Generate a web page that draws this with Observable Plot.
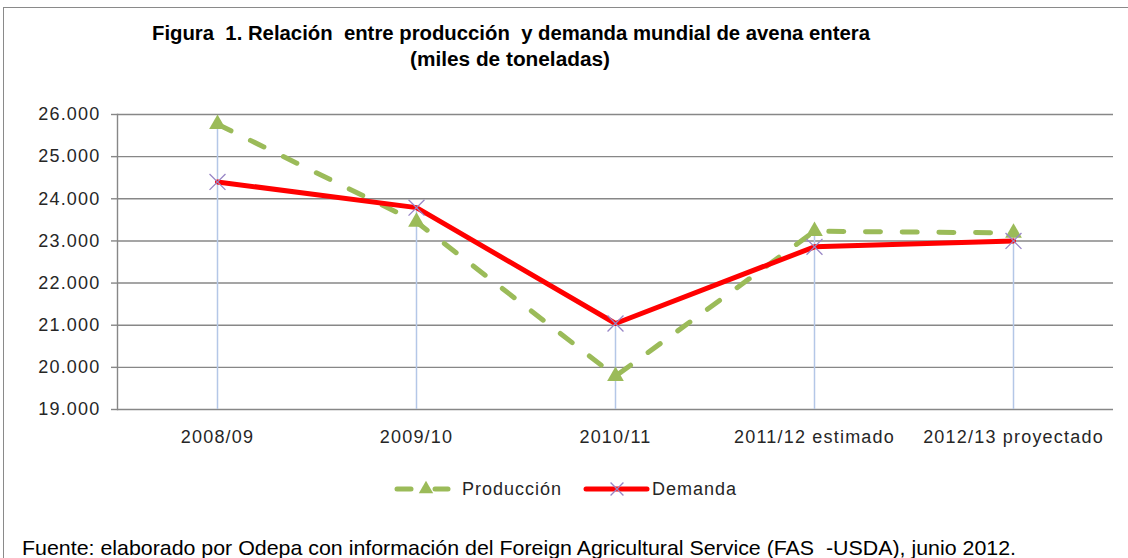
<!DOCTYPE html>
<html>
<head>
<meta charset="utf-8">
<script src="https://cdn.jsdelivr.net/npm/d3@7"></script>
<script src="https://cdn.jsdelivr.net/npm/@observablehq/plot@0.6"></script>
<style>
  html, body { margin: 0; padding: 0; background: #fff; }
  #wrap { position: relative; width: 1128px; height: 558px; overflow: hidden; background: #fff; }
  #border { position: absolute; left: 3px; top: 7px; width: 1140px; height: 600px;
            border-top: 1.5px solid #8a8a8a; border-left: 1.5px solid #8a8a8a; }
  .narrow { font-family: "Liberation Sans", Arial, sans-serif; white-space: nowrap;
            position: absolute; transform-origin: 0 0; }
  .title { font-weight: bold; font-size: 20px; line-height: 26px; color: #000; }
  #chart { position: absolute; left: 0; top: 100px; }
  #chart svg text { letter-spacing: 1.2px; }
  #legend { position: absolute; left: 0; top: 476px; width: 1128px; height: 28px;
            font-family: "Liberation Sans", Arial, sans-serif; font-size: 18px; color: #262626; }
  #legend .item { position: absolute; top: 0; height: 28px; }
  #legend span { position: absolute; top: 3px; white-space: nowrap; letter-spacing: 1px; }
  #footer { font-size: 21px; line-height: 26px; color: #000; }
</style>
</head>
<body>
<div id="wrap">
  <div id="border"></div>
  <div id="t1" class="narrow title">Figura&nbsp; 1. Relación&nbsp; entre producción&nbsp; y demanda mundial de avena entera</div>
  <div id="t2" class="narrow title">(miles de toneladas)</div>
  <div id="chart"></div>
  <div id="legend"></div>
  <div id="footer" class="narrow">Fuente: elaborado por Odepa con información del Foreign Agricultural Service (FAS&nbsp; -USDA), junio 2012.</div>
</div>
<script>
const categories = ["2008/09", "2009/10", "2010/11", "2011/12 estimado", "2012/13 proyectado"];
const produccion = [25770, 23450, 19790, 23230, 23190];
const demanda = [24400, 23790, 21040, 22860, 23000];
const yTicks = [19000, 20000, 21000, 22000, 23000, 24000, 25000, 26000];
const seriesNames = ["Producción", "Demanda"];

const green = "#9bbb59", red = "#ff0000", purple = "#9886c6", blue = "#b4c7e7", grid = "#878787";

// condensed (Arial Narrow-like) text: fit each line to its box in the reference
function fit(id, left, right, top) {
  const el = document.getElementById(id);
  const w = el.getBoundingClientRect().width;
  el.style.left = left + "px";
  el.style.top = top + "px";
  el.style.transform = `scaleX(${(right - left) / w})`;
}
fit("t1", 152, 870, 20);
fit("t2", 410, 610, 46);
fit("footer", 22, 1016, 535);

const data = categories.map((c, i) => ({cat: c, prod: produccion[i], dem: demanda[i]}));
const locale = d3.formatLocale({decimal: ",", thousands: ".", grouping: [3], currency: ["", ""]});
const fmt = locale.format(",");

const chart = Plot.plot({
  width: 1128,
  height: 360,
  marginLeft: 117,
  marginRight: 15,
  marginTop: 14,
  marginBottom: 51,
  style: {fontFamily: "Liberation Sans, Arial, sans-serif", fontSize: "18px", color: "#262626", background: "transparent"},
  x: {domain: categories, type: "point", padding: 0.5, label: null},
  y: {domain: [yTicks[0], yTicks[yTicks.length - 1]], label: null},
  marks: [
    Plot.gridY(yTicks, {stroke: grid, strokeOpacity: 1, strokeWidth: 1.4}),
    Plot.frame({anchor: "left", stroke: grid, strokeWidth: 1.4}),
    Plot.axisY(yTicks, {tickSize: 6, tickPadding: 11, tickFormat: fmt, stroke: grid, strokeWidth: 1.4, fill: "#262626"}),
    Plot.axisX({tickSize: 0, tickPadding: 21, fill: "#262626"}),
    Plot.ruleX(data, {x: "cat", y1: yTicks[0], y2: d => Math.max(d.prod, d.dem), stroke: blue, strokeWidth: 1.5}),
    Plot.line(data, {x: "cat", y: "prod", stroke: green, strokeWidth: 5, strokeDasharray: "15,21.7", strokeLinecap: "round", strokeLinejoin: "round"}),
    Plot.dot(data, {x: "cat", y: "prod", symbol: "triangle", r: 6.2, fill: green, stroke: null}),
    Plot.line(data, {x: "cat", y: "dem", stroke: red, strokeWidth: 5, strokeLinejoin: "round"}),
    Plot.dot(data, {x: "cat", y: "dem", symbol: "times", r: 7.3, stroke: purple, strokeWidth: 1.3})
  ]
});
document.getElementById("chart").appendChild(chart);

// legend
const legend = document.getElementById("legend");
const svgNS = "http://www.w3.org/2000/svg";
function item(left, w, drawFn, label, labelLeft) {
  const div = document.createElement("div");
  div.className = "item";
  div.style.left = left + "px";
  const svg = document.createElementNS(svgNS, "svg");
  svg.setAttribute("width", w);
  svg.setAttribute("height", 28);
  svg.style.position = "absolute";
  svg.style.left = "0px";
  svg.style.top = "0px";
  drawFn(d3.select(svg));
  div.appendChild(svg);
  const span = document.createElement("span");
  span.textContent = label;
  span.style.left = labelLeft + "px";
  div.appendChild(span);
  legend.appendChild(div);
}
item(393, 60, s => {
  s.append("line").attr("x1", 4).attr("x2", 18).attr("y1", 13).attr("y2", 13)
    .attr("stroke", green).attr("stroke-width", 5).attr("stroke-linecap", "round");
  s.append("line").attr("x1", 42).attr("x2", 55).attr("y1", 13).attr("y2", 13)
    .attr("stroke", green).attr("stroke-width", 5).attr("stroke-linecap", "round");
  s.append("path").attr("d", d3.symbol(d3.symbolTriangle, 90)()).attr("transform", "translate(33,13)").attr("fill", green);
}, seriesNames[0], 69);
item(582, 68, s => {
  s.append("line").attr("x1", 4).attr("x2", 65).attr("y1", 13).attr("y2", 13)
    .attr("stroke", red).attr("stroke-width", 5).attr("stroke-linecap", "round");
  s.append("path").attr("d", d3.symbol(d3.symbolTimes, 110)()).attr("transform", "translate(35,13)")
    .attr("fill", "none").attr("stroke", purple).attr("stroke-width", 1.3);
}, seriesNames[1], 70);
</script>
</body>
</html>
